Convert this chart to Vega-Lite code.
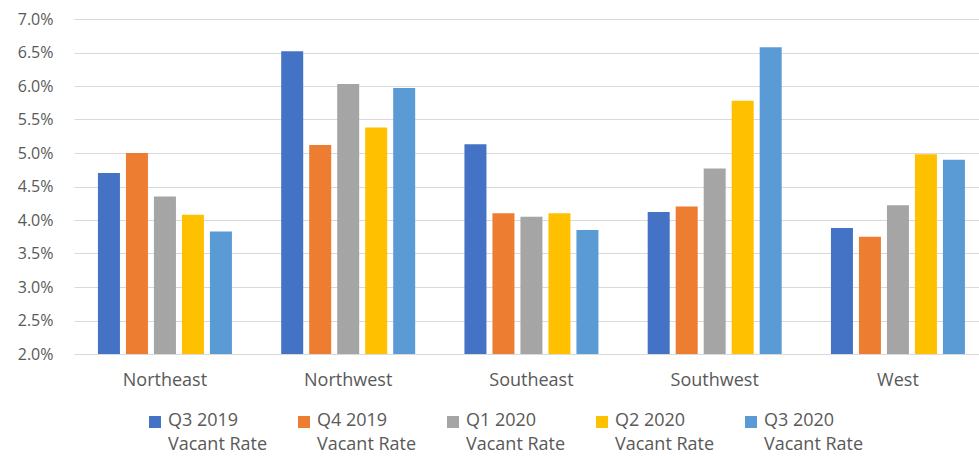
{
  "$schema": "https://vega.github.io/schema/vega-lite/v6.json",
  "width": 905,
  "height": 335,
  "autosize": {"type": "none"},
  "padding": {"left": 74, "top": 19, "right": 0, "bottom": 102},
  "background": "white",
  "config": {
    "view": {"stroke": null},
    "font": "Open Sans"
  },
  "data": {
    "values": [
      {"region": "Northeast", "quarter": "Q3 2019 Vacant Rate", "rate": 0.0470},
      {"region": "Northeast", "quarter": "Q4 2019 Vacant Rate", "rate": 0.0500},
      {"region": "Northeast", "quarter": "Q1 2020 Vacant Rate", "rate": 0.0435},
      {"region": "Northeast", "quarter": "Q2 2020 Vacant Rate", "rate": 0.0408},
      {"region": "Northeast", "quarter": "Q3 2020 Vacant Rate", "rate": 0.0383},
      {"region": "Northwest", "quarter": "Q3 2019 Vacant Rate", "rate": 0.0652},
      {"region": "Northwest", "quarter": "Q4 2019 Vacant Rate", "rate": 0.0512},
      {"region": "Northwest", "quarter": "Q1 2020 Vacant Rate", "rate": 0.0603},
      {"region": "Northwest", "quarter": "Q2 2020 Vacant Rate", "rate": 0.0538},
      {"region": "Northwest", "quarter": "Q3 2020 Vacant Rate", "rate": 0.0597},
      {"region": "Southeast", "quarter": "Q3 2019 Vacant Rate", "rate": 0.0513},
      {"region": "Southeast", "quarter": "Q4 2019 Vacant Rate", "rate": 0.0410},
      {"region": "Southeast", "quarter": "Q1 2020 Vacant Rate", "rate": 0.0405},
      {"region": "Southeast", "quarter": "Q2 2020 Vacant Rate", "rate": 0.0410},
      {"region": "Southeast", "quarter": "Q3 2020 Vacant Rate", "rate": 0.0385},
      {"region": "Southwest", "quarter": "Q3 2019 Vacant Rate", "rate": 0.0412},
      {"region": "Southwest", "quarter": "Q4 2019 Vacant Rate", "rate": 0.0420},
      {"region": "Southwest", "quarter": "Q1 2020 Vacant Rate", "rate": 0.0477},
      {"region": "Southwest", "quarter": "Q2 2020 Vacant Rate", "rate": 0.0578},
      {"region": "Southwest", "quarter": "Q3 2020 Vacant Rate", "rate": 0.0658},
      {"region": "West", "quarter": "Q3 2019 Vacant Rate", "rate": 0.0388},
      {"region": "West", "quarter": "Q4 2019 Vacant Rate", "rate": 0.0375},
      {"region": "West", "quarter": "Q1 2020 Vacant Rate", "rate": 0.0422},
      {"region": "West", "quarter": "Q2 2020 Vacant Rate", "rate": 0.0498},
      {"region": "West", "quarter": "Q3 2020 Vacant Rate", "rate": 0.0490}
    ]
  },
  "mark": {"type": "bar"},
  "encoding": {
    "x": {
      "field": "region",
      "type": "nominal",
      "sort": null,
      "scale": {"paddingInner": 0.2688, "paddingOuter": 0.1037, "align": 0.63},
      "axis": {
        "title": null,
        "labelAngle": 0,
        "labelFontSize": 18,
        "labelColor": "#595959",
        "labelPadding": 17,
        "ticks": false,
        "domainColor": "#d9d9d9"
      }
    },
    "xOffset": {
      "field": "quarter",
      "type": "nominal",
      "sort": null,
      "scale": {"paddingInner": 0.214, "paddingOuter": 0}
    },
    "y": {
      "field": "rate",
      "type": "quantitative",
      "scale": {"domain": [0.02, 0.07], "zero": false, "nice": false},
      "axis": {
        "title": null,
        "format": ".1%",
        "values": [0.02, 0.025, 0.03, 0.035, 0.04, 0.045, 0.05, 0.055, 0.06, 0.065, 0.07],
        "labelFontSize": 16,
        "labelColor": "#595959",
        "labelPadding": 21,
        "ticks": false,
        "domain": false,
        "gridColor": "#d9d9d9"
      }
    },
    "y2": {"datum": 0.02},
    "color": {
      "field": "quarter",
      "type": "nominal",
      "sort": null,
      "scale": {"range": ["#4472C4", "#ED7D31", "#A5A5A5", "#FFC000", "#5B9BD5"]},
      "legend": {
        "title": null,
        "orient": "none",
        "legendX": 72,
        "legendY": 394,
        "direction": "horizontal",
        "columns": 5,
        "symbolType": "square",
        "symbolSize": 144,
        "symbolStrokeWidth": 0,
        "labelFontSize": 18,
        "labelColor": "#595959",
        "labelExpr": "[slice(datum.label, 0, 7), 'Vacant Rate']",
        "labelLimit": 200,
        "labelBaseline": "top",
        "columnPadding": 27,
        "labelOffset": 4,
        "encode": {
          "labels": {"update": {"lineHeight": {"value": 24}, "dy": {"value": -10}}}
        }
      }
    }
  }
}
